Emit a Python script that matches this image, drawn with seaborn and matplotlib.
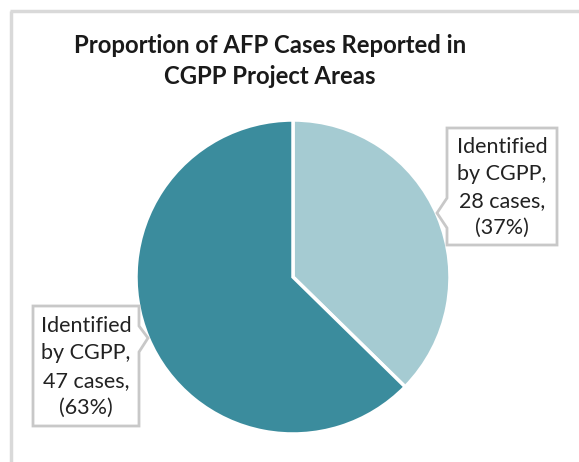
import matplotlib
matplotlib.use('Agg')
import matplotlib.pyplot as plt
from matplotlib.patches import Polygon
import seaborn as sns

# ── Data ───────────────────────────────────────────────────────────────────
categories = ['Identified by CGPP', 'Identified by CGPP']
cases = [28, 47]
colors = ['#A5CBD2', '#3B8C9D']
title = 'Proportion of AFP Cases Reported in\nCGPP Project Areas'

sns.set_theme(style='white')
plt.rcParams['font.family'] = ['Lato', 'DejaVu Sans']

W, H = 579, 462
fig = plt.figure(figsize=(W / 100, H / 100), dpi=100)
ax = fig.add_axes([0, 0, 1, 1])

def py(y):
    # pixel row -> data y
    return H - y

# chart frame (left and top edges visible)
ax.plot([11, 11], [py(11), py(H)], color='#D9D9D9', lw=2.5, solid_capstyle='butt')
ax.plot([10, W], [py(11), py(11)], color='#D9D9D9', lw=2.5, solid_capstyle='butt')

# pie
ax.pie(cases, colors=colors, startangle=90, counterclock=False,
       center=(293, py(277)), radius=157, frame=True,
       wedgeprops=dict(edgecolor='white', linewidth=2.5))
ax.set_xlim(0, W)
ax.set_ylim(0, H)
ax.set_aspect('equal')
ax.axis('off')

ax.text(270, py(61), title, ha='center', va='center', fontsize=17.2,
        fontweight='bold', color='#1a1a1a', linespacing=1.4)

total = sum(cases)
labels = [f'Identified\nby CGPP,\n{n} cases,\n({round(100 * n / total)}%)' for n in cases]

# callout boxes: (x0, y0, x1, y1, side, pointer a, pointer b, tip x, tip y)
boxes = [
    (447, 128, 557, 245, 'left', 198, 228, 437, 213),
    (33, 306, 139, 426, 'right', 326, 352, 148, 338),
]
for lab, (x0, y0, x1, y1, side, pa, pb, tx, ty) in zip(labels, boxes):
    if side == 'left':
        pts = [(x0, y0), (x1, y0), (x1, y1), (x0, y1), (x0, pb), (tx, ty), (x0, pa)]
    else:
        pts = [(x0, y0), (x1, y0), (x1, pa), (tx, ty), (x1, pb), (x1, y1), (x0, y1)]
    poly = Polygon([(x, py(y)) for x, y in pts], closed=True, facecolor='white',
                   edgecolor='#C8C8C8', linewidth=2, zorder=5)
    ax.add_patch(poly)
    ax.text((x0 + x1) / 2, py((y0 + y1) / 2 + 1), lab, ha='center', va='center',
            fontsize=15.5, color='#222222', linespacing=1.45, zorder=6)

fig.savefig('out.png', dpi=100)
plt.close(fig)
